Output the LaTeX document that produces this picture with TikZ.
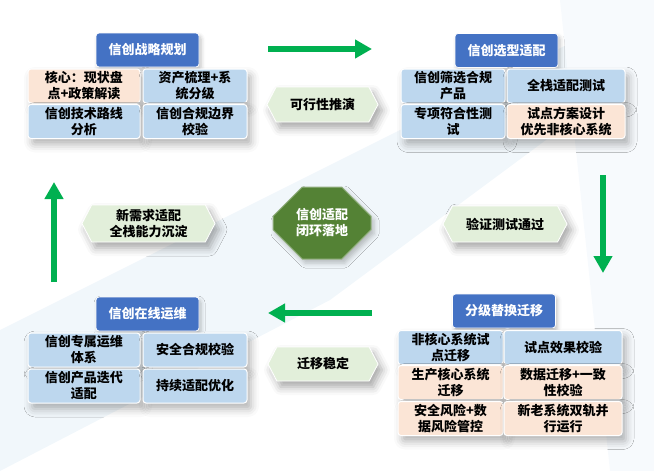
\documentclass[tikz,border=0pt]{standalone}
\usepackage{fontspec}
\newfontfamily\cjk{Noto Sans CJK SC}
\usetikzlibrary{shapes.misc,shapes.symbols,arrows.meta,shadows.blur}
\definecolor{titleblue}{HTML}{4472C4}
\definecolor{cellblue}{HTML}{BDD7EE}
\definecolor{cellpeach}{HTML}{FBE5D6}
\definecolor{hexgreen}{HTML}{E2EFDA}
\definecolor{octgreen}{HTML}{548235}
\definecolor{arrowgreen}{HTML}{00B050}
\definecolor{bgblue}{HTML}{F1F7FB}
\tikzset{
  txt/.style={font=\cjk\bfseries\fontsize{13}{16}\selectfont, align=center, inner sep=0pt},
  title/.style={txt, fill=titleblue, text=white, draw=white, line width=0.8pt, rounded corners=3pt,
    minimum width=103pt, minimum height=34pt, blur shadow={shadow xshift=2pt, shadow yshift=-3pt, shadow blur radius=4pt, shadow opacity=25}},
  cell/.style={txt, fill=cellblue, draw=white, line width=1pt, rounded corners=3pt, minimum height=34pt,
    blur shadow={shadow xshift=4pt, shadow yshift=-6pt, shadow blur radius=8pt, shadow opacity=30}},
  peach/.style={cell, fill=cellpeach},
  hexlabel/.style={txt, shape=signal, signal to=west and east, signal pointer angle=125, fill=hexgreen,
    draw=white, line width=0.8pt,
    blur shadow={shadow xshift=4pt, shadow yshift=-6pt, shadow blur radius=8pt, shadow opacity=35}},
  bigarrow/.style={draw=arrowgreen, line width=6pt, -{Triangle[length=17pt,width=18pt]}},
}
\begin{document}
\begin{tikzpicture}[x=1pt,y=-1pt]
	\useasboundingbox (0,0) rectangle (654,471);
	% faint background bands
	\fill[bgblue] (0,330) -- (420,120) -- (654,0) -- (654,60) -- (330,300) -- (0,471) -- cycle;
	\fill[bgblue!60] (560,0) -- (654,0) -- (654,471) -- (610,471) -- cycle;

	% strategy planning
	\node[title] (plan) at (147.5,50) {信创战略规划};
	\node[peach, minimum width=112pt] (planA) at (84,86) {核心：现状盘\\点+政策解读};
	\node[cell, minimum width=104pt] (planB) at (195,86) {资产梳理+系\\统分级};
	\node[cell, minimum width=112pt] (planC) at (84,121.5) {信创技术路线\\分析};
	\node[cell, minimum width=104pt] (planD) at (195,121.5) {信创合规边界\\校验};

	% selection and adaptation
	\node[title] (select) at (506.5,50.5) {信创选型适配};
	\node[cell, minimum width=104pt] (selectA) at (453,86) {信创筛选合规\\产品};
	\node[cell, minimum width=118pt] (selectB) at (566,86) {全栈适配测试};
	\node[cell, minimum width=104pt] (selectC) at (453,121.5) {专项符合性测\\试};
	\node[peach, minimum width=118pt] (selectD) at (566,121.5) {试点方案设计\\优先非核心系统};

	% graded migration
	\node[title] (migrate) at (504,311) {分级替换迁移};
	\node[cell, minimum width=105pt] (migrateA) at (450.5,347.5) {非核心系统试\\点迁移};
	\node[cell, minimum width=118pt] (migrateB) at (563,347.5) {试点效果校验};
	\node[peach, minimum width=105pt] (migrateC) at (450.5,382.5) {生产核心系统\\迁移};
	\node[peach, minimum width=118pt] (migrateD) at (563,382.5) {数据迁移+一致\\性校验};
	\node[peach, minimum width=105pt] (migrateE) at (450.5,418.5) {安全风险+数\\据风险管控};
	\node[peach, minimum width=118pt] (migrateF) at (563,418.5) {新老系统双轨并\\行运行};

	% online operation
	\node[title] (operate) at (147.5,314) {信创在线运维};
	\node[cell, minimum width=112pt] (operateA) at (84,350) {信创专属运维\\体系};
	\node[cell, minimum width=104pt] (operateB) at (195,350) {安全合规校验};
	\node[cell, minimum width=112pt] (operateC) at (84,386) {信创产品迭代\\适配};
	\node[cell, minimum width=104pt] (operateD) at (195,386) {持续适配优化};

	% centre
	\node[txt, chamfered rectangle, chamfered rectangle sep=15pt, fill=octgreen, text=white,
		draw=octgreen!60!white, line width=1pt, minimum width=98pt, minimum height=72pt,
		blur shadow={shadow xshift=3pt, shadow yshift=-4pt, shadow blur radius=5pt, shadow opacity=25}]
		(core) at (322,223) {信创适配\\闭环落地};

	% stage labels
	\node[hexlabel, minimum width=111pt, minimum height=35pt] (feasible) at (322.5,104.5) {可行性推演};
	\node[hexlabel, minimum width=124pt, minimum height=36pt] (verified) at (505,224) {验证测试通过};
	\node[hexlabel, minimum width=110pt, minimum height=34pt] (stable) at (323,364) {迁移稳定};
	\node[hexlabel, minimum width=133pt, minimum height=37pt] (newneed) at (148.5,223.5) {新需求适配\\全栈能力沉淀};

	% loop arrows
	\coordinate (topS) at (268,49);   \coordinate (topE) at (372,49);
	\coordinate (rightS) at (603,175); \coordinate (rightE) at (603,273);
	\coordinate (botS) at (372,313);  \coordinate (botE) at (268,313);
	\coordinate (leftS) at (54,282);  \coordinate (leftE) at (54,182);
	\draw[bigarrow] (topS) -- (topE);
	\draw[bigarrow] (rightS) -- (rightE);
	\draw[bigarrow] (botS) -- (botE);
	\draw[bigarrow] (leftS) -- (leftE);
\end{tikzpicture}
\end{document}
